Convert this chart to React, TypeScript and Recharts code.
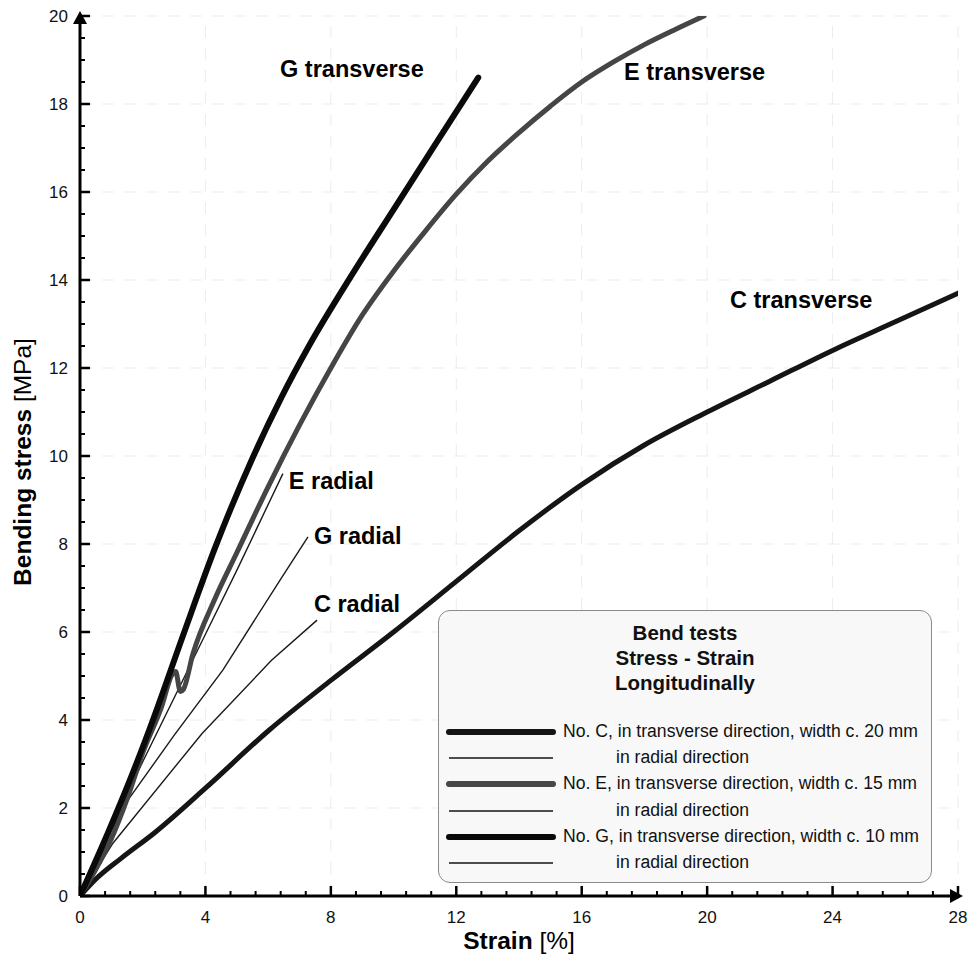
import { LineChart, Line, XAxis, YAxis, ReferenceLine, ReferenceDot, Label } from 'recharts';

type Pt = { x: number; y: number };

// strain [%] / bending stress [MPa]
const C_TRANSVERSE: Pt[] = [
  { x: 0, y: 0 }, { x: 0.5, y: 0.38 }, { x: 1.3, y: 0.85 }, { x: 2.4, y: 1.45 }, { x: 4, y: 2.45 },
  { x: 6, y: 3.75 }, { x: 8, y: 4.9 }, { x: 10, y: 6.0 }, { x: 12, y: 7.15 }, { x: 14, y: 8.3 },
  { x: 16, y: 9.35 }, { x: 18, y: 10.25 }, { x: 20, y: 11.0 }, { x: 22, y: 11.7 }, { x: 24, y: 12.4 },
  { x: 26, y: 13.05 }, { x: 28, y: 13.7 },
];
const C_RADIAL: Pt[] = [
  { x: 0, y: 0 }, { x: 1.05, y: 1.2 }, { x: 3.9, y: 3.7 }, { x: 6.1, y: 5.35 }, { x: 7.56, y: 6.27 },
];
const E_TRANSVERSE: Pt[] = [
  { x: 0, y: 0 }, { x: 0.5, y: 0.6 }, { x: 1.0, y: 1.3 }, { x: 1.5, y: 2.2 }, { x: 2.0, y: 3.25 },
  { x: 2.6, y: 4.3 }, { x: 2.95, y: 5.05 }, { x: 3.05, y: 5.1 }, { x: 3.2, y: 4.65 }, { x: 3.3, y: 4.7 },
  { x: 3.6, y: 5.5 }, { x: 4.3, y: 6.75 }, { x: 5, y: 7.8 }, { x: 6, y: 9.3 }, { x: 7, y: 10.7 },
  { x: 8, y: 12.0 }, { x: 9, y: 13.2 }, { x: 10, y: 14.2 }, { x: 11, y: 15.1 }, { x: 12, y: 15.95 },
  { x: 13, y: 16.7 }, { x: 14, y: 17.35 }, { x: 15, y: 17.95 }, { x: 16, y: 18.5 }, { x: 17, y: 18.95 },
  { x: 18, y: 19.35 }, { x: 19, y: 19.7 }, { x: 19.9, y: 20.0 },
];
const E_RADIAL: Pt[] = [
  { x: 0, y: 0 }, { x: 1, y: 1.55 }, { x: 2, y: 3.05 }, { x: 3, y: 4.5 }, { x: 4, y: 5.95 },
  { x: 5, y: 7.4 }, { x: 6.47, y: 9.6 },
];
const G_TRANSVERSE: Pt[] = [
  { x: 0, y: 0 }, { x: 0.9, y: 1.45 }, { x: 1.6, y: 2.65 }, { x: 2.3, y: 3.95 }, { x: 3.3, y: 5.95 },
  { x: 4.3, y: 7.9 }, { x: 5.5, y: 9.95 }, { x: 6.4, y: 11.3 }, { x: 7.3, y: 12.5 }, { x: 8.7, y: 14.15 },
  { x: 10, y: 15.6 }, { x: 11.3, y: 17.05 }, { x: 12.7, y: 18.6 },
];
const G_RADIAL: Pt[] = [
  { x: 0, y: 0 }, { x: 0.5, y: 0.8 }, { x: 1.0, y: 1.5 }, { x: 1.5, y: 2.15 }, { x: 3, y: 3.65 },
  { x: 4.56, y: 5.14 }, { x: 6.38, y: 7.18 }, { x: 7.27, y: 8.16 },
];

const X_MAJOR = [0, 4, 8, 12, 16, 20, 24, 28];
const Y_MAJOR = [0, 2, 4, 6, 8, 10, 12, 14, 16, 18, 20];
const X_TICKS = Array.from({ length: 36 }, (_, i) => Math.round(i * 8) / 10);
const Y_TICKS = Array.from({ length: 41 }, (_, i) => i / 2);

const CURVE_LABELS = [
  { text: 'G transverse', x: 6.38, y: 18.8 },
  { text: 'E transverse', x: 17.35, y: 18.73 },
  { text: 'C transverse', x: 20.73, y: 13.55 },
  { text: 'E radial', x: 6.66, y: 9.43 },
  { text: 'G radial', x: 7.46, y: 8.18 },
  { text: 'C radial', x: 7.46, y: 6.64 },
];

const LEGEND_TITLE = ['Bend tests', 'Stress - Strain', 'Longitudinally'];
const LEGEND_ROWS = [
  { text: 'No. C, in transverse direction, width c. 20 mm', thick: true, color: '#141414' },
  { text: 'in radial direction', thick: false, color: '#141414' },
  { text: 'No. E, in transverse direction, width c. 15 mm', thick: true, color: '#474747' },
  { text: 'in radial direction', thick: false, color: '#141414' },
  { text: 'No. G, in transverse direction, width c. 10 mm', thick: true, color: '#0a0a0a' },
  { text: 'in radial direction', thick: false, color: '#141414' },
];

const FONT = '"Liberation Sans", Arial, sans-serif';

function XTick({ x, y, payload }: any) {
  const v = payload.value;
  const major = X_MAJOR.includes(v);
  return (
    <g>
      <line x1={x} x2={x} y1={y} y2={y - (major ? 10 : 5)} stroke="#000" strokeWidth={major ? 2.5 : 2} />
      {major && (
        <text x={x} y={y + 27} textAnchor="middle" fontSize={17} fontFamily={FONT} fill="#111">
          {v}
        </text>
      )}
      {v === 28 && <path d={`M${x + 5},${y} L${x - 8},${y - 7} L${x - 8},${y + 7} Z`} fill="#000" />}
    </g>
  );
}

function YTick({ x, y, payload }: any) {
  const v = payload.value;
  const major = Y_MAJOR.includes(v);
  return (
    <g>
      <line x1={x} x2={x + (major ? 10 : 5)} y1={y} y2={y} stroke="#000" strokeWidth={major ? 2.5 : 2} />
      {major && (
        <text x={x - 12} y={y + 6} textAnchor="end" fontSize={17} fontFamily={FONT} fill="#111">
          {v}
        </text>
      )}
      {v === 20 && <path d={`M${x},${y - 5} L${x - 7},${y + 8} L${x + 7},${y + 8} Z`} fill="#000" />}
    </g>
  );
}

function CurveLabel({ cx, cy, text }: any) {
  return (
    <text x={cx} y={cy} dominantBaseline="central" fontSize={23.5} fontWeight="bold" fontFamily={FONT} fill="#000">
      {text}
    </text>
  );
}

function LegendBox() {
  return (
    <div
      style={{
        position: 'absolute',
        left: 438,
        top: 610,
        width: 494,
        height: 273,
        boxSizing: 'border-box',
        border: '1px solid #8a8a8a',
        borderRadius: 12,
        background: '#f8f8f8',
        fontFamily: FONT,
        color: '#111',
      }}
    >
      <div style={{ textAlign: 'center', fontWeight: 'bold', fontSize: 20.5, lineHeight: '25px', marginTop: 9 }}>
        {LEGEND_TITLE.map((t) => (
          <div key={t}>{t}</div>
        ))}
      </div>
      <div style={{ position: 'absolute', left: 0, top: 108 }}>
        {LEGEND_ROWS.map((r, i) => (
          <div key={i} style={{ position: 'absolute', top: i * 26.2, left: 0, height: 26, width: 490 }}>
            <svg width={120} height={26} style={{ position: 'absolute', left: 6, top: 0 }}>
              <line
                x1={4}
                x2={108}
                y1={13}
                y2={13}
                stroke={r.color}
                strokeWidth={r.thick ? 6 : 1.6}
                strokeLinecap={r.thick ? 'round' : 'butt'}
              />
            </svg>
            <span
              style={{
                position: 'absolute',
                left: r.thick ? 124 : 177,
                top: 2,
                fontSize: 17.6,
                whiteSpace: 'nowrap',
              }}
            >
              {r.text}
            </span>
          </div>
        ))}
      </div>
    </div>
  );
}

export default function App() {
  return (
    <div style={{ position: 'relative', width: 977, height: 958, background: '#fff' }}>
      <style>{'body{margin:0}'}</style>
      <LineChart width={977} height={958} margin={{ top: 16, right: 19, bottom: 12, left: 20 }}>
        {X_MAJOR.slice(1).map((v) => (
          <ReferenceLine key={'gx' + v} x={v} stroke="#ececec" strokeDasharray="12 10" />
        ))}
        {Y_MAJOR.slice(1).map((v) => (
          <ReferenceLine key={'gy' + v} y={v} stroke="#ececec" strokeDasharray="12 10" />
        ))}
        <XAxis
          type="number"
          dataKey="x"
          domain={[0, 28]}
          ticks={X_TICKS}
          interval={0}
          height={50}
          tickSize={0}
          tickMargin={0}
          tickLine={false}
          axisLine={{ stroke: '#000', strokeWidth: 3 }}
          tick={<XTick />}
          allowDataOverflow
        >
          <Label
            content={({ viewBox }: any) => (
              <text
                x={viewBox.x + viewBox.width / 2}
                y={viewBox.y + 53}
                textAnchor="middle"
                fontSize={24.5}
                fontFamily={FONT}
                fill="#000"
              >
                <tspan fontWeight="bold">Strain</tspan>
                <tspan> [%]</tspan>
              </text>
            )}
          />
        </XAxis>
        <YAxis
          type="number"
          dataKey="y"
          domain={[0, 20]}
          ticks={Y_TICKS}
          interval={0}
          width={60}
          tickSize={0}
          tickMargin={0}
          tickLine={false}
          axisLine={{ stroke: '#000', strokeWidth: 3 }}
          tick={<YTick />}
          allowDataOverflow
        >
          <Label
            content={({ viewBox }: any) => {
              const cx = 22;
              const cy = viewBox.y + viewBox.height / 2 + 6;
              return (
                <text
                  x={cx}
                  y={cy}
                  transform={`rotate(-90 ${cx} ${cy})`}
                  textAnchor="middle"
                  dominantBaseline="central"
                  fontSize={24.5}
                  fontFamily={FONT}
                  fill="#000"
                >
                  <tspan fontWeight="bold">Bending stress</tspan>
                  <tspan> [MPa]</tspan>
                </text>
              );
            }}
          />
        </YAxis>

        <Line data={C_RADIAL} dataKey="y" type="linear" stroke="#1a1a1a" strokeWidth={1.4} dot={false} isAnimationActive={false} />
        <Line data={G_RADIAL} dataKey="y" type="linear" stroke="#1a1a1a" strokeWidth={1.4} dot={false} isAnimationActive={false} />
        <Line data={E_RADIAL} dataKey="y" type="linear" stroke="#1a1a1a" strokeWidth={1.4} dot={false} isAnimationActive={false} />
        <Line data={C_TRANSVERSE} dataKey="y" type="monotone" stroke="#151515" strokeWidth={5} strokeLinecap="round" dot={false} isAnimationActive={false} />
        <Line data={E_TRANSVERSE} dataKey="y" type="monotone" stroke="#454545" strokeWidth={5} strokeLinecap="round" dot={false} isAnimationActive={false} />
        <Line data={G_TRANSVERSE} dataKey="y" type="monotone" stroke="#0a0a0a" strokeWidth={6} strokeLinecap="round" dot={false} isAnimationActive={false} />

        {CURVE_LABELS.map((l) => (
          <ReferenceDot key={l.text} x={l.x} y={l.y} r={0} shape={<CurveLabel text={l.text} />} />
        ))}
      </LineChart>
      <LegendBox />
    </div>
  );
}
